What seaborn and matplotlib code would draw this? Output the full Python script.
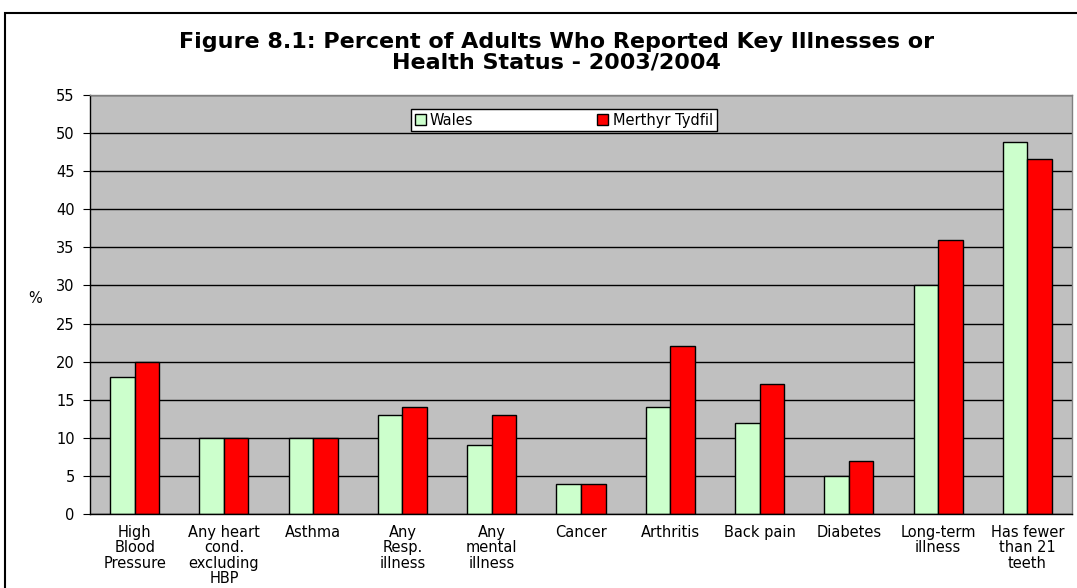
import pandas as pd
import matplotlib.pyplot as plt
import seaborn as sns
from matplotlib.patches import Rectangle


categories = ["High\nBlood\nPressure", "Any heart\ncond.\nexcluding\nHBP", "Asthma",
              "Any\nResp.\nillness", "Any\nmental\nillness", "Cancer", "Arthritis",
              "Back pain", "Diabetes", "Long-term\nillness", "Has fewer\nthan 21\nteeth"]
wales = [18, 10, 10, 13, 9, 4, 14, 12, 5, 30, 48.8]
merthyr = [20, 10, 10, 14, 13, 4, 22, 17, 7, 36, 46.6]
series = ["Wales", "Merthyr Tydfil"]
colors = ["#CCFFCC", "#FF0000"]

df = pd.DataFrame({
    "category": categories * 2,
    "value": wales + merthyr,
    "area": [series[0]] * len(categories) + [series[1]] * len(categories),
})

sns.set_style("white")
plt.rcParams['font.family'] = ['DejaVu Sans']
plt.rcParams['text.color'] = 'black'
plt.rcParams['xtick.color'] = 'black'
plt.rcParams['ytick.color'] = 'black'
plt.rcParams['axes.labelcolor'] = 'black'

fig = plt.figure(figsize=(10.77, 5.88), dpi=100)
ax = fig.add_axes([0.0836, 0.1259, 0.9118, 0.7125])
ax.set_facecolor("#C0C0C0")

sns.barplot(data=df, x="category", y="value", hue="area", palette=colors,
            saturation=1, width=0.55, edgecolor="black", linewidth=1, ax=ax)

ax.set_ylim(0, 55)
ax.set_yticks(range(0, 56, 5))
ax.yaxis.grid(True, color="black", linewidth=1)
ax.set_axisbelow(True)
ax.set_xlim(-0.5, len(categories) - 0.5)
ax.set_xticks(range(len(categories)))
ax.set_xticks([i - 0.5 for i in range(len(categories) + 1)], minor=True)
ax.tick_params(axis="x", which="major", length=0, pad=8, labelsize=10.5)
ax.tick_params(axis="x", which="minor", length=5, color="black", direction="out")
ax.tick_params(axis="y", length=5, color="black", direction="out", labelsize=10.5,
               left=True, pad=6)
for lbl in ax.get_xticklabels():
    lbl.set_verticalalignment("top")
    lbl.set_multialignment("center")
    lbl.set_linespacing(1.03)

for side in ["left", "bottom"]:
    ax.spines[side].set_color("black")
    ax.spines[side].set_linewidth(1)
for side in ["top", "right"]:
    ax.spines[side].set_color("#808080")
    ax.spines[side].set_linewidth(1)

ax.set_xlabel("")
ax.set_ylabel("%", rotation=0, fontsize=10.5, va="center", ha="center")
ax.yaxis.set_label_coords(-0.056, 0.515)

leg = ax.legend(loc="upper left", bbox_to_anchor=((411 - 90) / 982, (514 - 109) / 419), ncol=2,
                frameon=True, fancybox=False, framealpha=1, edgecolor="black",
                fontsize=10.5, handlelength=0.75, handleheight=0.75, handletextpad=0.3,
                columnspacing=8.5, borderpad=0.25, borderaxespad=0)
leg.get_frame().set_linewidth(1)

fig.text(0.517, 1 - 52 / 588,
         "Figure 8.1: Percent of Adults Who Reported Key Illnesses or\nHealth Status - 2003/2004",
         fontsize=16, fontweight="bold", ha="center", va="center", linespacing=1.0)

fig.patches.append(Rectangle((5 / 1077, -0.01), 1.1, 1 - 13 / 588 + 0.01,
                             transform=fig.transFigure, fill=False,
                             edgecolor="black", linewidth=1.5))

plt.savefig("out.png", dpi=100)
plt.close()
